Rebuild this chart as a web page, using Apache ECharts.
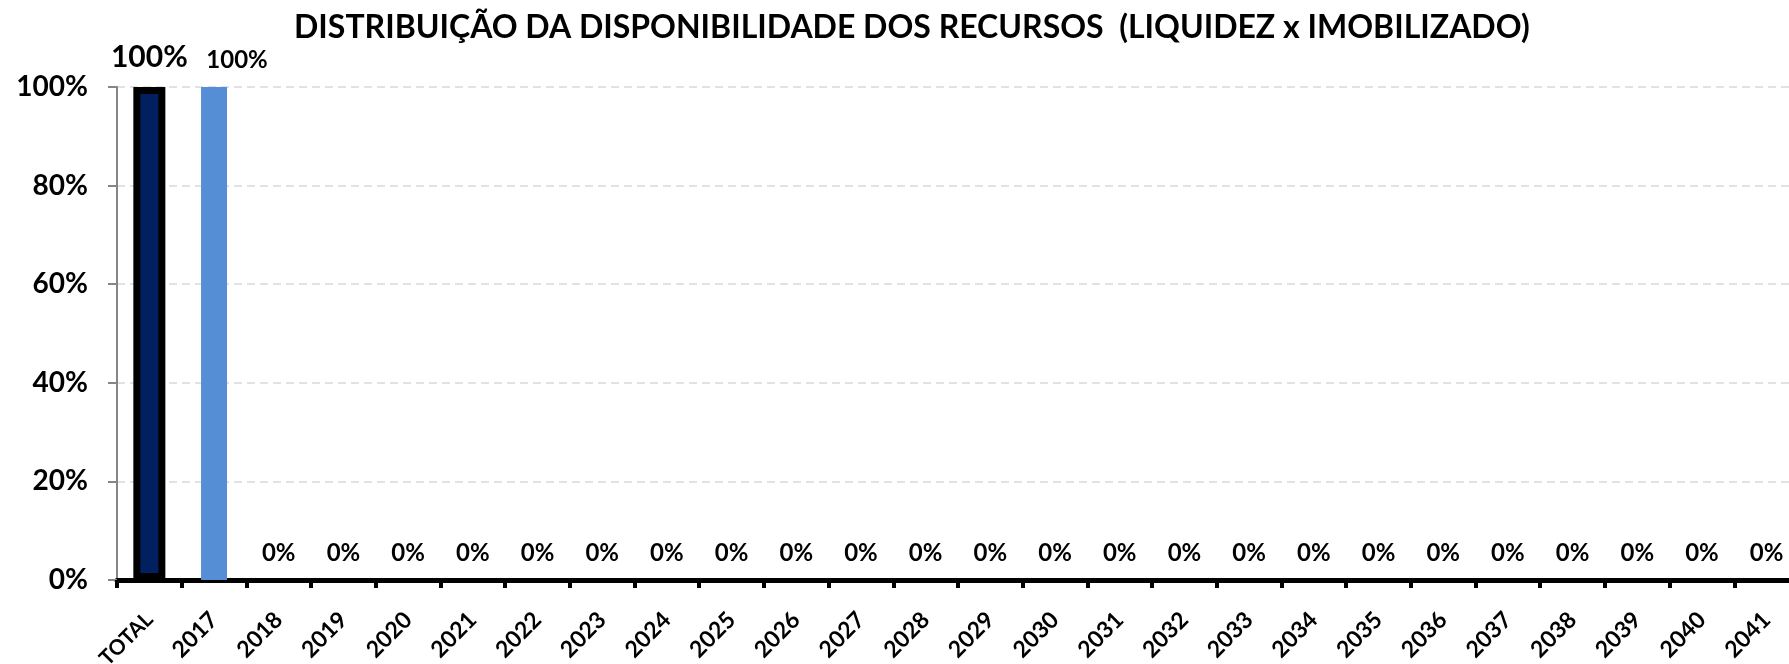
<!DOCTYPE html>
<html>
<head>
<meta charset="utf-8">
<title>Distribuição da disponibilidade dos recursos</title>
<script src="https://cdn.jsdelivr.net/npm/echarts@6/dist/echarts.min.js"></script>
<style>
  html, body { margin: 0; padding: 0; background: #fff; }
  #chart { width: 1789px; height: 664px; }
</style>
</head>
<body>
<div id="chart"></div>
<script>
const categories = ['TOTAL', '2017', '2018', '2019', '2020', '2021', '2022', '2023', '2024', '2025',
  '2026', '2027', '2028', '2029', '2030', '2031', '2032', '2033', '2034', '2035',
  '2036', '2037', '2038', '2039', '2040', '2041']
// % dos recursos disponiveis em cada ano
const shares = [100, 100, 0, 0, 0, 0, 0, 0, 0, 0,
  0, 0, 0, 0, 0, 0, 0, 0, 0, 0,
  0, 0, 0, 0, 0, 0]
const yTicks = [0, 20, 40, 60, 80, 100]

const font = 'Lato, "Open Sans", sans-serif'
const totalColor = '#002060'
const yearColor = '#558ed5'

const chart = echarts.init(document.getElementById('chart'))

// TOTAL e os anos ficam em eixos separados para terem larguras diferentes
const totalData = shares.map((v, i) => (i === 0 ? v : '-'))
const yearData = shares.map((v, i) => {
  if (i === 0) return '-'
  if (i === 1) return { value: v, label: { offset: [23, 0] } }
  return v
})

const labelStyle = {
  show: true,
  position: 'top',
  distance: 15,
  formatter: '{c}%',
  color: '#000',
  fontFamily: font,
  fontWeight: 'bold',
  fontSize: 24
}

chart.setOption({
  animation: false,
  title: {
    text: 'DISTRIBUIÇÃO DA DISPONIBILIDADE DOS RECURSOS  (LIQUIDEZ x IMOBILIZADO)',
    left: 289,
    top: 7,
    textStyle: {
      fontFamily: font,
      fontWeight: 'bold',
      fontSize: 32,
      color: '#000'
    }
  },
  grid: {
    left: 117,
    top: 87,
    bottom: 84,
    right: -10,
    outerBoundsMode: 'none'
  },
  xAxis: [{
    type: 'category',
    data: categories,
    axisLine: {
      show: true,
      lineStyle: { color: '#000', width: 5 }
    },
    axisTick: {
      show: true,
      length: 8,
      lineStyle: { color: '#000', width: 4 }
    },
    axisLabel: {
      rotate: 45,
      margin: 36,
      color: '#000',
      fontFamily: font,
      fontWeight: 'bold',
      fontSize: 23,
      formatter: (v, i) => (i === 0 ? '{t|' + v + '}' : v),
      rich: {
        t: { fontFamily: font, fontWeight: 'bold', fontSize: 21, color: '#000' }
      }
    },
    splitLine: { show: false }
  }, {
    type: 'category',
    data: categories,
    show: false
  }],
  yAxis: {
    type: 'value',
    min: yTicks[0],
    max: yTicks[yTicks.length - 1],
    interval: 20,
    axisLine: {
      show: true,
      lineStyle: { color: '#868686', width: 2 }
    },
    axisTick: {
      show: true,
      length: 9,
      lineStyle: { color: '#868686', width: 2 }
    },
    axisLabel: {
      margin: 29,
      formatter: '{value}%',
      color: '#000',
      fontFamily: font,
      fontWeight: 'bold',
      fontSize: 28
    },
    splitLine: {
      show: true,
      lineStyle: { color: '#d9d9d9', width: 1.5, type: [8, 5] }
    }
  },
  series: [{
    name: 'TOTAL',
    type: 'bar',
    xAxisIndex: 0,
    data: totalData,
    barWidth: 32,
    itemStyle: { color: totalColor, borderColor: '#000', borderWidth: 7 },
    label: Object.assign({}, labelStyle, { fontSize: 30 })
  }, {
    name: 'Anos',
    type: 'bar',
    xAxisIndex: 1,
    data: yearData,
    barWidth: 26,
    itemStyle: { color: yearColor },
    label: labelStyle
  }]
})
</script>
</body>
</html>
